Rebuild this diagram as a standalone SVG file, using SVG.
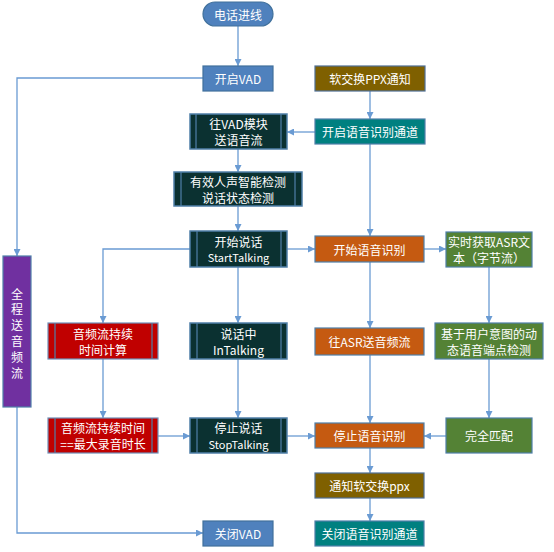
<svg xmlns="http://www.w3.org/2000/svg" width="554" height="552" viewBox="0 0 554 552">
<style>
text{font-family:"Microsoft YaHei","Noto Sans CJK SC","Liberation Sans",sans-serif;font-size:12px;fill:#ffffff;text-anchor:middle;dominant-baseline:central}
.blue{fill:#4f81bd;stroke:#41719c;stroke-width:1.2}
.olive{fill:#7f6000;stroke:#4f6f94;stroke-width:1.2}
.teal{fill:#008080;stroke:#4f7fa8;stroke-width:1.2}
.dark{fill:#0b3131;stroke:#4f7fa8;stroke-width:1.5}
.orange{fill:#c55a11;stroke:#4f7fa8;stroke-width:1.2}
.green{fill:#548235;stroke:#4f7fa8;stroke-width:1.2}
.red{fill:#c00000;stroke:#6f8fb8;stroke-width:1.2}
.purple{fill:#7030a0;stroke:#4f7fa8;stroke-width:1.2}
.inner{stroke:#4f7fa8;stroke-width:1.2;fill:none}
.c{fill:none;stroke:#6a9bd3;stroke-width:1.3;marker-end:url(#ah)}
</style>
<defs>
<marker id="ah" viewBox="0 0 10 10" refX="10" refY="5" markerWidth="7" markerHeight="7" markerUnits="userSpaceOnUse" orient="auto">
<path d="M0,0 L10,5 L0,10 z" fill="#6a9bd3"/>
</marker>
</defs>
<g id="connectors">
<path class="c" d="M238,26 V66"/>
<path class="c" d="M203,78 H17 V256"/>
<path class="c" d="M370,91 V119"/>
<path class="c" d="M315,132 H287"/>
<path class="c" d="M238,149 V172"/>
<path class="c" d="M238,206 V231"/>
<path class="c" d="M370,144 V236"/>
<path class="c" d="M190,249 H103 V323"/>
<path class="c" d="M287,249 H315"/>
<path class="c" d="M424,249 H446"/>
<path class="c" d="M238,267 V323"/>
<path class="c" d="M370,262 V328"/>
<path class="c" d="M489,267 V323"/>
<path class="c" d="M103,359 V418"/>
<path class="c" d="M238,359 V418"/>
<path class="c" d="M370,355 V423"/>
<path class="c" d="M489,359 V418"/>
<path class="c" d="M158,436 H190"/>
<path class="c" d="M287,436 H315"/>
<path class="c" d="M446,436 H424"/>
<path class="c" d="M370,448 V473"/>
<path class="c" d="M370,498 V521"/>
<path class="c" d="M17,407 V533 H203"/>
</g>
<g id="n_call"><rect class="blue" x="203" y="2" width="70" height="24" rx="12"/><text x="238" y="14">电话进线</text></g>
<g id="n_vad_on"><rect class="blue" x="203" y="66" width="70" height="25"/><text x="238" y="78.5">开启VAD</text></g>
<g id="n_ppx"><rect class="olive" x="315" y="66" width="110" height="25"/><text x="370" y="78.5">软交换PPX通知</text></g>
<g id="n_send_vad"><rect class="dark" x="190" y="114" width="97" height="35"/><path class="inner" d="M196,114V149M281,114V149"/><text x="238.5" y="123.5">往VAD模块</text><text x="238.5" y="139.5">送语音流</text></g>
<g id="n_asr_ch"><rect class="teal" x="315" y="119" width="110" height="25"/><text x="370" y="131.5">开启语音识别通道</text></g>
<g id="n_detect"><rect class="dark" x="174" y="172" width="128" height="34"/><path class="inner" d="M181,172V206M295,172V206"/><text x="238" y="181">有效人声智能检测</text><text x="238" y="197">说话状态检测</text></g>
<g id="n_start"><rect class="dark" x="190" y="231" width="97" height="36"/><path class="inner" d="M197,231V267M281,231V267"/><text x="238.5" y="241">开始说话</text><text x="238.5" y="257" style="font-size:11px">StartTalking</text></g>
<g id="n_asr_start"><rect class="orange" x="315" y="236" width="109" height="26"/><text x="369.5" y="249">开始语音识别</text></g>
<g id="n_asr_text"><rect class="green" x="446" y="232" width="86" height="35"/><text x="489" y="241.5">实时获取ASR文</text><text x="489" y="257.5">本（字节流）</text></g>
<g id="n_all"><rect class="purple" x="3" y="256" width="28" height="151"/><text x="17" y="293">全</text><text x="17" y="308.8">程</text><text x="17" y="324.6">送</text><text x="17" y="340.4">音</text><text x="17" y="356.2">频</text><text x="17" y="372">流</text></g>
<g id="n_dur"><rect class="red" x="48" y="323" width="110" height="36"/><path class="inner" d="M55,323V359M152,323V359"/><text x="103" y="333">音频流持续</text><text x="103" y="349">时间计算</text></g>
<g id="n_talking"><rect class="dark" x="190" y="323" width="97" height="36"/><path class="inner" d="M197,323V359M281,323V359"/><text x="238.5" y="333">说话中</text><text x="238.5" y="349.5">InTalking</text></g>
<g id="n_asr_send"><rect class="orange" x="315" y="328" width="109" height="27"/><text x="369.5" y="341.5">往ASR送音频流</text></g>
<g id="n_endpoint"><rect class="green" x="435" y="323" width="108" height="36"/><text x="489" y="333">基于用户意图的动</text><text x="489" y="349">态语音端点检测</text></g>
<g id="n_dur_max"><rect class="red" x="48" y="418" width="110" height="35"/><path class="inner" d="M55,418V453M152,418V453"/><text x="103" y="427.5">音频流持续时间</text><text x="103" y="443.5">==最大录音时长</text></g>
<g id="n_stop"><rect class="dark" x="190" y="418" width="97" height="35"/><path class="inner" d="M197,418V453M281,418V453"/><text x="238.5" y="427.5">停止说话</text><text x="238.5" y="444" style="font-size:11px">StopTalking</text></g>
<g id="n_asr_stop"><rect class="orange" x="315" y="423" width="109" height="25"/><text x="369.5" y="435.5">停止语音识别</text></g>
<g id="n_match"><rect class="green" x="446" y="418" width="86" height="35"/><text x="489" y="435.5">完全匹配</text></g>
<g id="n_notify"><rect class="olive" x="315" y="473" width="109" height="25"/><text x="369.5" y="485.5">通知软交换ppx</text></g>
<g id="n_vad_off"><rect class="blue" x="203" y="521" width="70" height="25"/><text x="238" y="533.5">关闭VAD</text></g>
<g id="n_asr_ch_off"><rect class="teal" x="315" y="521" width="109" height="25"/><text x="369.5" y="533.5">关闭语音识别通道</text></g>
</svg>
